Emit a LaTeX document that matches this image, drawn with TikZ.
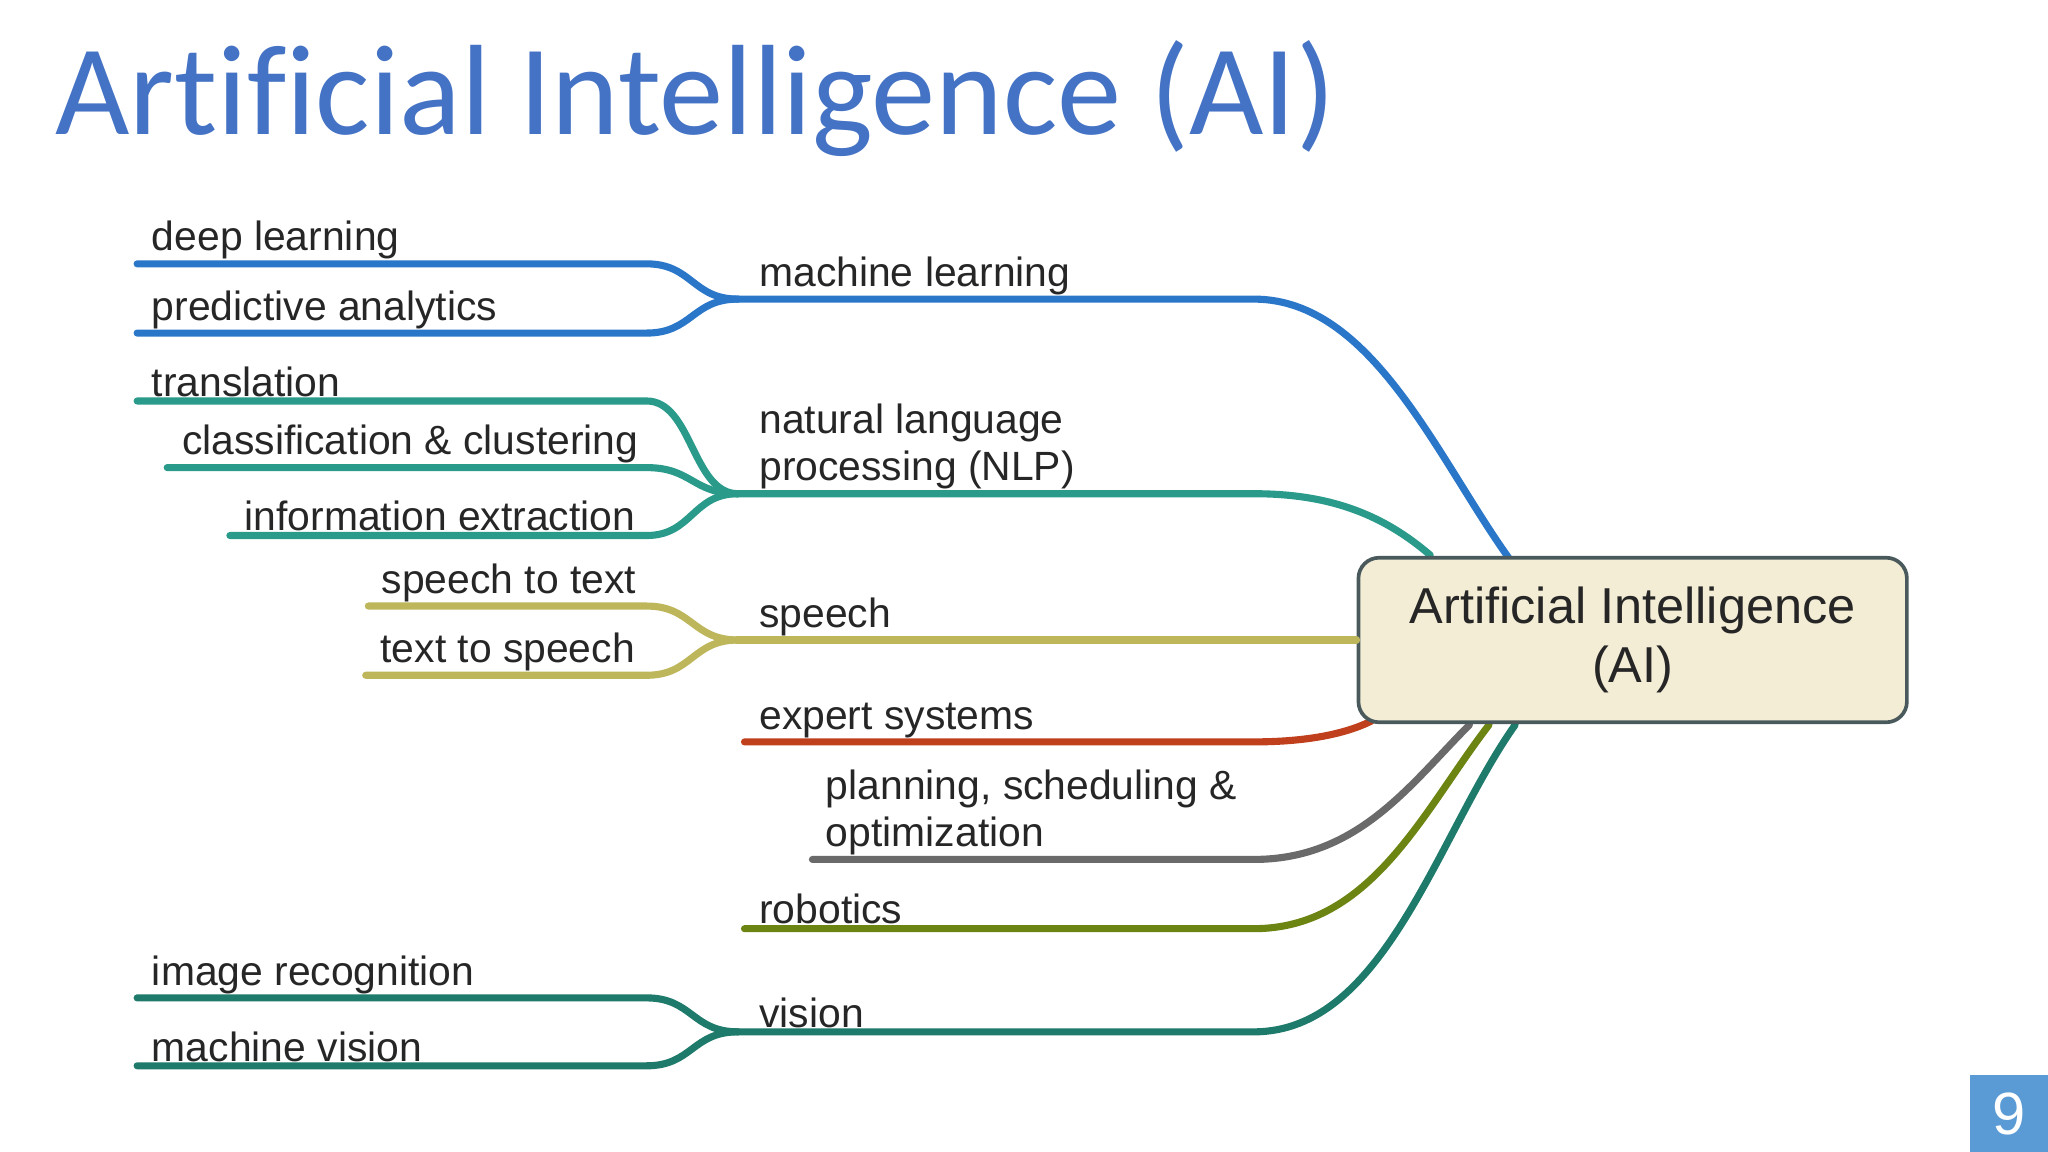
\documentclass[tikz,border=0pt]{standalone}
\usepackage{fontspec}
\setmainfont{Liberation Sans}
\newfontfamily\titlefont[Ligatures={NoCommon}]{Carlito}
\begin{document}
\begin{tikzpicture}[x=0.02cm,y=-0.02cm]
\definecolor{cml}{HTML}{2A77C9}
\definecolor{cnlp}{HTML}{2A9A8A}
\definecolor{csp}{HTML}{BDB65A}
\definecolor{cex}{HTML}{C0401E}
\definecolor{cpl}{HTML}{6A6A6A}
\definecolor{crb}{HTML}{6B8412}
\definecolor{cvi}{HTML}{1E7A6A}
\definecolor{ctitle}{HTML}{4472C4}
\definecolor{boxfill}{HTML}{F3EDD6}
\definecolor{boxdraw}{HTML}{4A5A5C}
\definecolor{pgfill}{HTML}{5B9BD5}
\tikzset{br/.style={line width=3.1pt,line cap=round},
 lab/.style={anchor=south west,inner sep=0pt,font=\fontsize{17.8}{20}\selectfont,text=black!85},
 lab2/.style={anchor=south west,inner sep=0pt,font=\fontsize{17.8}{20.5}\selectfont,text=black!85,align=left}}
\useasboundingbox (0,0) rectangle (1568,882);
\fill[white] (0,0) rectangle (1568,882);
\node[anchor=base west,inner sep=0pt,text=ctitle,font=\titlefont\fontsize{56}{60}\selectfont] (title) at (42,103) {Artificial Intelligence (AI)};
% hubs
\coordinate (hml) at (565,229);
\coordinate (hnlp) at (565,378);
\coordinate (hsp) at (565,490);
\coordinate (hvi) at (565,790);
\coordinate (pml) at (1155,427);
\coordinate (pnlp) at (1095,425);
\coordinate (pex) at (1050,552);
\coordinate (ppl) at (1125,555);
\coordinate (prb) at (1140,555);
\coordinate (pvi) at (1160,555);
% main branches
\draw[br,cml] (hml) -- (960,229) .. controls (1050,229) and (1100,350) .. (pml);
\draw[br,cnlp] (hnlp) -- (960,378) .. controls (1020,378) and (1060,395) .. (pnlp);
\draw[br,cex] (570,568) -- (960,568) .. controls (1000,568) and (1030,562) .. (pex);
\draw[br,cpl] (622,658) -- (960,658) .. controls (1040,658) and (1080,600) .. (ppl);
\draw[br,crb] (570,711) -- (960,711) .. controls (1050,711) and (1090,620) .. (prb);
\draw[br,cvi] (hvi) -- (960,790) .. controls (1060,790) and (1100,640) .. (pvi);
% box
\node[draw=boxdraw,line width=1.6pt,fill=boxfill,rounded corners=9pt,minimum width=8.4cm,minimum height=2.52cm,align=center,text=black!85,font=\fontsize{22}{26}\selectfont] (ai) at (1250,490) {Artificial Intelligence\\(AI)};
\draw[br,csp] (hsp) -- (ai.west);
% sub branches
\foreach \y/\x/\c/\h in {202/105/cml/hml,255/105/cml/hml,307/105/cnlp/hnlp,358/128/cnlp/hnlp,410/176/cnlp/hnlp,464/282/csp/hsp,517/280/csp/hsp,764/105/cvi/hvi,816/105/cvi/hvi}{
 \draw[br,\c] (\x,\y) -- (495,\y) .. controls (530,\y) and (530,0|-\h) .. (\h);
}
% labels
\node[lab] (l1) at (116,199) {deep learning};
\node[lab] (l2) at (116,252) {predictive analytics};
\node[lab] (l3) at (116,304) {translation};
\node[lab] (l4) at (139,355) {classification \& clustering};
\node[lab] (l5) at (187,407) {information extraction};
\node[lab] (l6) at (292,461) {speech to text};
\node[lab] (l7) at (291,514) {text to speech};
\node[lab] (l8) at (116,761) {image recognition};
\node[lab] (l9) at (116,813) {machine vision};
\node[lab] (m1) at (581,226) {machine learning};
\node[lab2] (m2) at (581,375) {natural language\\processing (NLP)};
\node[lab] (m3) at (581,487) {speech};
\node[lab] (m4) at (581,565) {expert systems};
\node[lab2] (m5) at (632,655) {planning, scheduling \&\\optimization};
\node[lab] (m6) at (581,708) {robotics};
\node[lab] (m7) at (581,787) {vision};
% page number
\fill[pgfill] (1508,823) rectangle (1568,882);
\node[text=white,font=\fontsize{26}{28}\selectfont] (pg) at (1538,853) {9};
\end{tikzpicture}
\end{document}
